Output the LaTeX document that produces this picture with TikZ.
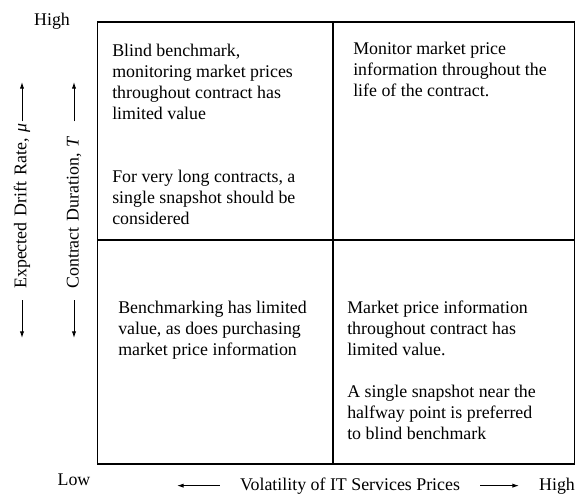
\documentclass[tikz,border=0pt]{standalone}
\usepackage{fontspec}
\setmainfont{Liberation Serif}
\usetikzlibrary{arrows.meta}
\newcommand{\quadfont}{\fontsize{13.4pt}{15.75pt}\selectfont}
\tikzset{
  grid/.style={line width=0.8pt},
  cell/.style={anchor=base west, align=left, inner sep=0pt, font=\quadfont},
  axislabel/.style={inner sep=0pt, font=\quadfont},
  axisarrow/.style={line width=0.7pt, -{Latex[length=5pt,width=3.2pt]}},
}

\begin{document}
\begin{tikzpicture}[x=0.75pt, y=-0.75pt]
    \useasboundingbox (0,0) rectangle (577,494);
    % the four quadrants
    \draw[grid] (97.5,22) rectangle (574.5,464);
    \draw[grid] (333,22) -- (333,464);
    \draw[grid] (97.5,240) -- (574.5,240);
    % what to do in each quadrant (base = last line)
    \node[cell] (tl) at (112,224) {Blind benchmark,\\ monitoring market prices\\ throughout contract has\\ limited value\\[31.5pt] For very long contracts, a\\ single snapshot should be\\ considered};
    \node[cell] (tr) at (353,96) {Monitor market price\\ information throughout the\\ life of the contract.};
    \node[cell] (bl) at (118,355) {Benchmarking has limited\\ value, as does purchasing\\ market price information};
    \node[cell] (br) at (347,439) {Market price information\\ throughout contract has\\ limited value.\\[15.75pt] A single snapshot near the\\ halfway point is preferred\\ to blind benchmark};
    % ends of the scale
    \node[axislabel, anchor=base] (high-y) at (52,25) {High};
    \node[axislabel, anchor=base] (low) at (74,485) {Low};
    \node[axislabel, anchor=base] (high-x) at (557,490) {High};
    % horizontal axis
    \coordinate (x-lo) at (177,0);
    \coordinate (x-hi) at (519,0);
    \node[axislabel, anchor=base, inner xsep=15pt] (vol) at (350,490) {Volatility of IT Services Prices};
    \draw[axisarrow] (vol.west) -- (vol.west -| x-lo);
    \draw[axisarrow] (vol.east) -- (vol.east -| x-hi);
    % vertical axes
    \coordinate (y-hi) at (0,82);
    \coordinate (y-lo) at (0,338);
    \node[axislabel, rotate=90, anchor=west, text width=133.5pt, align=left, inner xsep=0pt] (drift) at (22,300) {\hspace*{8.25pt}Expected Drift Rate, \textit{μ}};
    \node[axislabel, rotate=90, anchor=west, text width=133.5pt, align=left, inner xsep=0pt] (dur) at (74,300) {\hspace*{8.25pt}Contract Duration, \textit{T}};
    \foreach \lab in {drift, dur} {
        \draw[axisarrow] (\lab.east) -- (\lab.east |- y-hi);
        \draw[axisarrow] (\lab.west) -- (\lab.west |- y-lo);
    }
\end{tikzpicture}
\end{document}
